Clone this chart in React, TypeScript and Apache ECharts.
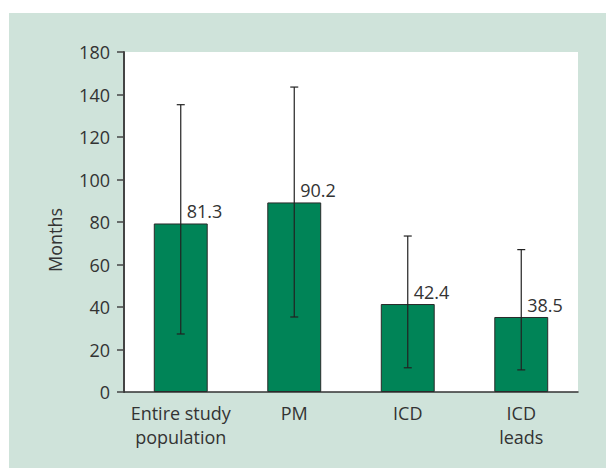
import React, { useEffect, useRef } from "react";
import * as echarts from "echarts";

const CATEGORIES = ["Entire study\npopulation", "PM", "ICD", "ICD\nleads"];
const BAR_HEIGHTS = [79.3, 89.2, 41.4, 35.3];
const VALUE_LABELS = ["81.3", "90.2", "42.4", "38.5"];
const ERR_HIGH = [135.2, 143.5, 73.4, 67.0];
const ERR_LOW = [27.3, 35.3, 11.4, 10.4];
const TICK_LABELS = ["0", "20", "40", "60", "80", "100", "120", "140", "180"];

const FONT = "'Open Sans', 'Noto Sans', sans-serif";
const TEXT_COLOR = "#333333";
const FS = 18;

export default function App() {
  const ref = useRef<HTMLDivElement>(null);

  useEffect(() => {
    if (!ref.current) return;
    const chart = echarts.init(ref.current, undefined, { renderer: "svg" });

    const errData = CATEGORIES.map((_, i) => [i, ERR_LOW[i], ERR_HIGH[i], BAR_HEIGHTS[i]]);

    chart.setOption({
      animation: false,
      backgroundColor: "transparent",
      textStyle: { fontFamily: FONT },
      grid: {
        left: 115,
        top: 39,
        right: 28,
        bottom: 76,
        show: true,
        backgroundColor: "#ffffff",
        borderWidth: 0,
      },
      graphic: [
        {
          type: "text",
          x: 46,
          y: 227,
          rotation: Math.PI / 2,
          style: {
            text: "Months",
            fontSize: FS,
            fontFamily: FONT,
            fill: TEXT_COLOR,
            align: "center",
            verticalAlign: "middle",
          },
        },
      ],
      xAxis: {
        type: "category",
        data: CATEGORIES,
        axisLine: { show: true, lineStyle: { color: "#333333", width: 1.5 } },
        axisTick: { show: false },
        axisLabel: {
          interval: 0,
          fontSize: FS,
          fontFamily: FONT,
          color: TEXT_COLOR,
          lineHeight: 24,
          margin: 9,
        },
      },
      yAxis: {
        type: "value",
        min: 0,
        max: 160,
        interval: 20,
        splitLine: { show: false },
        axisLine: { show: true, lineStyle: { color: "#444444", width: 2 } },
        axisTick: { show: true, length: 7, lineStyle: { color: "#444444", width: 1.5 } },
        axisLabel: {
          fontSize: FS,
          fontFamily: FONT,
          color: TEXT_COLOR,
          margin: 14,
          formatter: (v: number) => TICK_LABELS[Math.round(v / 20)] ?? "",
        },
      },
      series: [
        {
          type: "bar",
          data: BAR_HEIGHTS,
          barWidth: "47.5%",
          itemStyle: { color: "#008457", borderColor: "#2a2a2a", borderWidth: 1 },
        },
        {
          type: "custom",
          data: errData,
          z: 10,
          renderItem: (params: any, api: any) => {
            const i = api.value(0);
            const hi = api.coord([i, api.value(2)]);
            const lo = api.coord([i, api.value(1)]);
            const top = api.coord([i, api.value(3)]);
            const cap = 4;
            const ls = { stroke: "#222222", lineWidth: 1.2 };
            return {
              type: "group",
              children: [
                { type: "line", shape: { x1: hi[0], y1: hi[1], x2: lo[0], y2: lo[1] }, style: ls },
                { type: "line", shape: { x1: hi[0] - cap, y1: hi[1], x2: hi[0] + cap, y2: hi[1] }, style: ls },
                { type: "line", shape: { x1: lo[0] - cap, y1: lo[1], x2: lo[0] + cap, y2: lo[1] }, style: ls },
                {
                  type: "text",
                  x: top[0] + 6,
                  y: top[1] - 3,
                  style: {
                    text: VALUE_LABELS[params.dataIndex],
                    fontSize: FS,
                    fontFamily: FONT,
                    fill: TEXT_COLOR,
                    align: "left",
                    verticalAlign: "bottom",
                  },
                },
              ],
            };
          },
        },
      ],
    });

    return () => chart.dispose();
  }, []);

  return (
    <div style={{ position: "fixed", left: 0, top: 0, width: 606, height: 468, background: "#ffffff" }}>
      <div
        ref={ref}
        style={{ position: "absolute", left: 9, top: 13, width: 597, height: 455, background: "#cfe3da" }}
      />
    </div>
  );
}
